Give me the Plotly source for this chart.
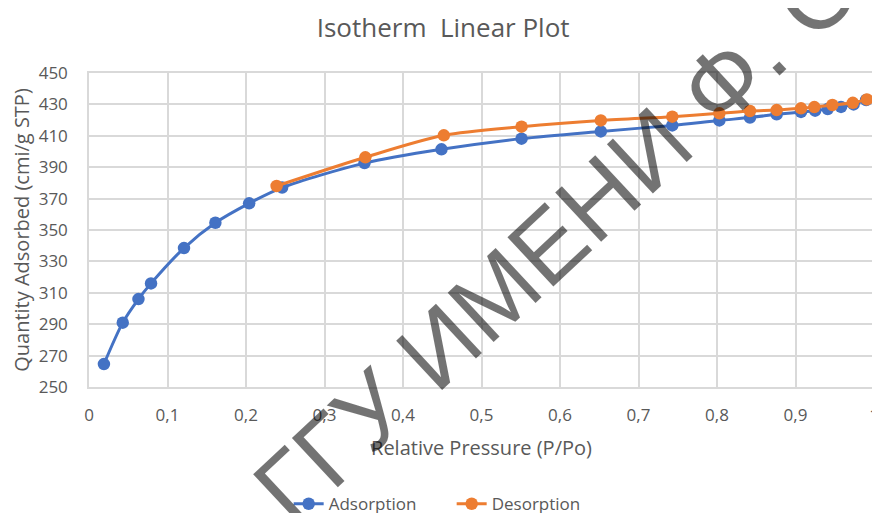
import plotly.graph_objects as go

# Data
ads_x = [0.019, 0.043, 0.063, 0.079, 0.121, 0.161, 0.204, 0.246, 0.351, 0.449, 0.551,
         0.652, 0.743, 0.803, 0.842, 0.876, 0.907, 0.925, 0.941, 0.958, 0.974, 0.990]
ads_y = [264.6, 291.0, 306.0, 316.0, 338.5, 354.6, 367.0, 377.0, 392.6, 401.4, 408.2,
         412.8, 416.6, 419.8, 421.6, 423.7, 425.2, 426.0, 427.0, 428.4, 430.0, 432.8]

des_x = [0.239, 0.352, 0.452, 0.551, 0.652, 0.743, 0.803, 0.842, 0.876, 0.907, 0.924,
         0.947, 0.973, 0.991]
des_y = [378.0, 396.3, 410.3, 415.8, 419.8, 422.2, 424.3, 425.8, 426.4, 427.5, 428.3,
         429.6, 431.0, 433.2]

x_ticks = [0, 0.1, 0.2, 0.3, 0.4, 0.5, 0.6, 0.7, 0.8, 0.9, 1]
y_ticks = [250, 270, 290, 310, 330, 350, 370, 390, 410, 430, 450]

BLUE = "#4472C4"
ORANGE = "#ED7D31"
GRID = "#D9D9D9"
TEXT = "#595959"
FONT = "Open Sans"

fig = go.Figure()
fig.add_trace(go.Scatter(
    x=ads_x, y=ads_y, name="Adsorption", mode="lines+markers",
    line=dict(color=BLUE, width=3, shape="spline", smoothing=0.8),
    marker=dict(color=BLUE, size=12.5),
))
fig.add_trace(go.Scatter(
    x=des_x, y=des_y, name="Desorption", mode="lines+markers",
    line=dict(color=ORANGE, width=3, shape="spline", smoothing=0.8),
    marker=dict(color=ORANGE, size=12.5),
))

# the page puts the figure 8 px from the top-left corner, so it is 872x505
fig.update_layout(
    width=872, height=505,
    margin=dict(l=81, r=6, t=65, b=126, autoexpand=False),
    paper_bgcolor="white", plot_bgcolor="white",
    separators=", ",
    font=dict(family=FONT, color=TEXT, size=17),
    title=dict(text="Isotherm  Linear Plot", x=0.499, xref="container", y=1 - 20 / 505,
               yref="container", xanchor="center", yanchor="middle",
               font=dict(family=FONT, size=26, color=TEXT)),
    showlegend=True,
    legend=dict(orientation="h", x=0.462, xanchor="center", y=-0.316, yanchor="top",
                entrywidth=118, font=dict(family=FONT, size=17, color=TEXT),
                bgcolor="rgba(0,0,0,0)"),
)

fig.update_xaxes(
    range=[0, 1], tickvals=x_ticks, showgrid=True, gridcolor=GRID, gridwidth=1.5,
    zeroline=False, showline=True, linecolor=GRID, linewidth=1.5, mirror=True,
    automargin=False,
    ticks="", ticklabelstandoff=12, tickfont=dict(family=FONT, size=17, color=TEXT),
    title=dict(text="Relative Pressure (P/Po)", standoff=16,
               font=dict(family=FONT, size=20, color=TEXT)),
)
fig.update_yaxes(
    range=[250, 450], tickvals=y_ticks, showgrid=True, gridcolor=GRID, gridwidth=1.5,
    zeroline=False, showline=True, linecolor=GRID, linewidth=1.5, mirror=True,
    automargin=False,
    ticks="", ticklabelstandoff=16, tickfont=dict(family=FONT, size=17, color=TEXT),
    title=dict(text="Quantity Adsorbed (cmi/g STP)", standoff=15,
               font=dict(family=FONT, size=20, color=TEXT)),
)

# Watermark overlaid on the image
fig.add_annotation(
    text="ГГУ ИМЕНИ Ф. С", xref="paper", yref="paper", x=0.594, y=0.475,
    xanchor="center", yanchor="middle", textangle=-43, showarrow=False,
    font=dict(family="Liberation Sans", size=98, color="rgba(0,0,0,0.55)"),
)

fig.write_html("out.html")
